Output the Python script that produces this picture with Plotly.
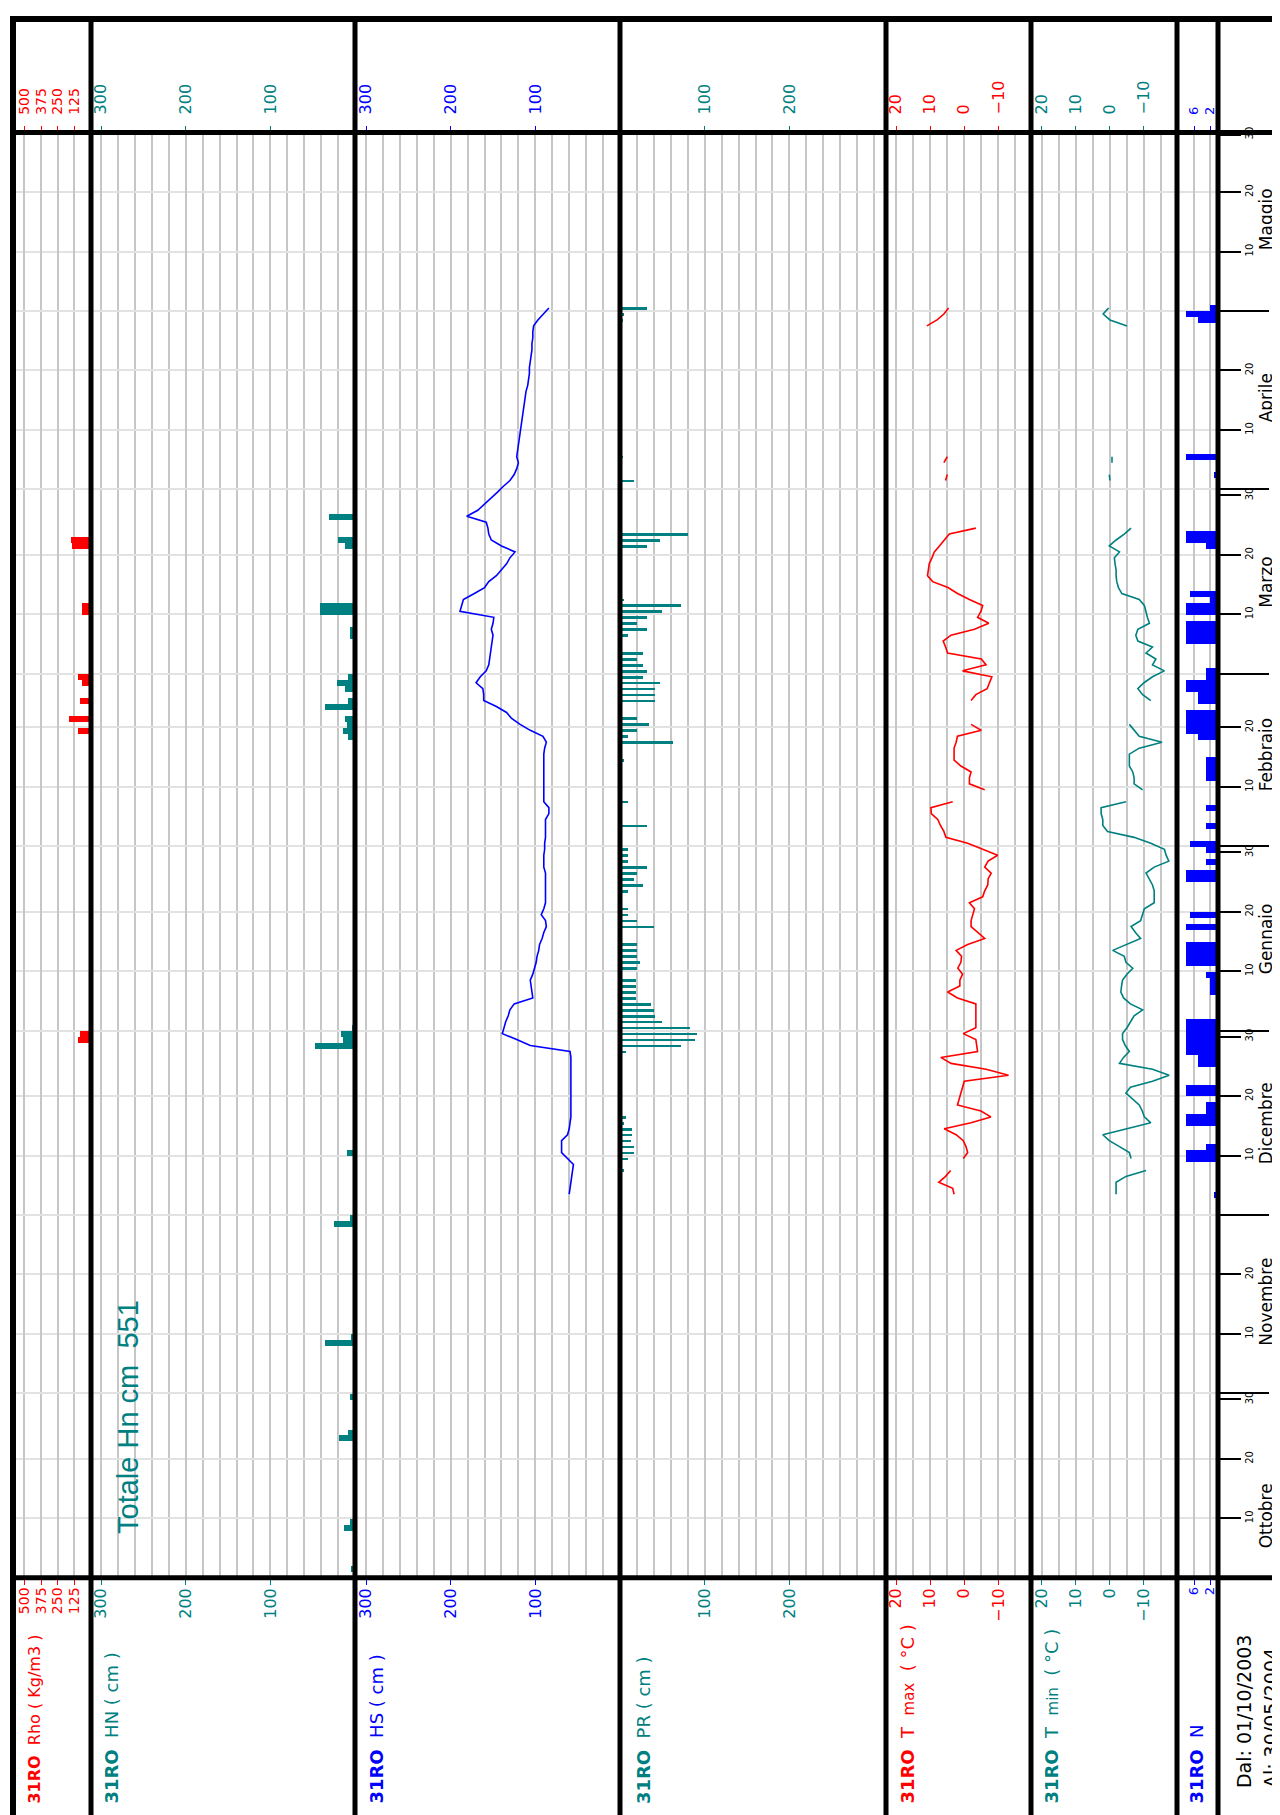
import plotly.graph_objects as go
import pandas as pd

W, H = 1280, 1815
OFF = 8  # page body margin of the browser

# ---------------- data ----------------
SEASON_START = "2003-10-01"
SEASON_END = "2004-05-31"

RHO_DATES = ["2003-12-30", "2003-12-31", "2004-02-20", "2004-02-22", "2004-02-25", "2004-02-28",
             "2004-02-29", "2004-03-11", "2004-03-12", "2004-03-22", "2004-03-23"]
RHO_VALUES = [99, 86, 99, 166, 81, 66, 99, 66, 66, 145, 150]

HN_DATES = ["2003-10-02", "2003-10-09", "2003-10-10", "2003-10-24", "2003-10-25", "2003-10-31",
            "2003-11-09", "2003-11-10", "2003-11-29", "2003-11-30", "2003-12-11", "2003-12-29",
            "2003-12-30", "2003-12-31", "2004-01-01", "2004-02-19", "2004-02-20", "2004-02-21",
            "2004-02-22", "2004-02-24", "2004-02-25", "2004-02-27", "2004-02-28", "2004-02-29",
            "2004-03-07", "2004-03-08", "2004-03-11", "2004-03-12", "2004-03-22", "2004-03-23",
            "2004-03-27"]
HN_VALUES = [5, 13, 6, 19, 8, 6, 36, 5, 25, 6, 10, 47, 14, 16, 4, 8, 14, 10, 12, 35, 8, 12, 21, 8,
             6, 6, 41, 41, 12, 20, 31]

HS_START = "2003-12-04"
HS_VALUES = [60, 59, 58, 57, 56, 55,
             62, 69, 69, 69, 62, 60, 59, 58, 58, 58,
             58, 58, 58, 58, 58, 58, 58, 58, 59, 106,
             122, 139, 137, 135, 132, 130, 125, 103, 104, 105,
             106, 103, 101, 99, 98, 96, 95, 92, 90, 87,
             88, 93, 90, 88, 88, 88, 88, 88, 88, 90,
             90, 90, 89, 89, 88, 88, 88, 88, 84, 84,
             90, 90, 90, 90, 90, 90, 90, 90, 90, 89,
             87, 91, 106, 118, 128, 134, 146, 161, 161, 162,
             170, 165, 158, 155, 154, 153, 152, 151, 150, 152,
             150, 149, 189, 187, 185, 172, 160, 155, 146, 140,
             134, 130, 124, 140, 152, 155, 156, 158, 181, 168,
             160, 152, 145, 138, 130, 125, 122, 120, 122, 121,
             120, 119, 118, 117, 116, 115, 114, 113, 112, 111,
             109, 108, 107, 107, 106, 105, 104, 104, 103, 103,
             102, 97, 91, 84]

PR_DATES = ["2003-12-08", "2003-12-10", "2003-12-11", "2003-12-12", "2003-12-13", "2003-12-14",
            "2003-12-15", "2003-12-16", "2003-12-17", "2003-12-28", "2003-12-29", "2003-12-30",
            "2003-12-31", "2004-01-01", "2004-01-02", "2004-01-03", "2004-01-04", "2004-01-05",
            "2004-01-06", "2004-01-07", "2004-01-08", "2004-01-09", "2004-01-11", "2004-01-12",
            "2004-01-13", "2004-01-14", "2004-01-15", "2004-01-18", "2004-01-19", "2004-01-20",
            "2004-01-21", "2004-01-24", "2004-01-25", "2004-01-26", "2004-01-27", "2004-01-28",
            "2004-01-29", "2004-01-30", "2004-01-31", "2004-02-04", "2004-02-08", "2004-02-15",
            "2004-02-18", "2004-02-19", "2004-02-20", "2004-02-21", "2004-02-22", "2004-02-25",
            "2004-02-26", "2004-02-27", "2004-02-28", "2004-02-29", "2004-03-01", "2004-03-02",
            "2004-03-03", "2004-03-04", "2004-03-07", "2004-03-08", "2004-03-09", "2004-03-10",
            "2004-03-11", "2004-03-12", "2004-03-13", "2004-03-22", "2004-03-23", "2004-03-24",
            "2004-04-02", "2004-04-06", "2004-04-29", "2004-04-30", "2004-05-01"]
PR_VALUES = [5, 9, 16, 16, 13, 14, 14, 5, 7, 7, 72, 88, 91,
             83, 50, 41, 40, 37, 19, 19, 19, 19, 20, 24, 20, 20, 20, 40, 20, 10, 10, 10, 27, 16, 20,
             32, 10, 10, 10,
             32, 10, 5, 63, 10, 20, 34, 20, 41, 41, 41, 47, 27,
             32, 27, 20, 27, 10, 32, 20, 32, 50, 72, 5, 32, 47, 80,
             16, 4, 4, 5, 32]

T_START = "2003-12-04"
TMAX_VALUES = [3, 3.4, 7.5, 5.5, 4, None,
               0.3, -1, -0.5, 0.3, 2.4, 5.9, -2, -7.8, -4.9, 2,
               1.5, 1, 0.3, 0, -13, -6.4, 3.9, 6.9, -3.9, -3.6,
               -3.4, 0.3, -3.4, -3.4, -3.4, -3.4, -3.4, 2, 4.9, 1.3,
               1.3, 0.5, 1.9, 1, 0.8, 2.4, -1, -6, -4, -2,
               -2, -2.5, -3, -1.5, -5.4, -6, -6.9, -7, -7.9, -6,
               -7, -9.8, -5.4, -1, 5.4, 6, 7, 7.8, 9.7, 9.8,
               3.4, None, -6, -1.5, -1.5, -2, 1, 3, 3, 3,
               2.4, 2, -5, -2, None, None, None, -2, -3.4, -6.7,
               -7.5, -8.1, 0.5, -6.4, -5, 4.9, 5.5, 6.2, 3.9, -3,
               -7.2, -3.9, -4.9, -5.4, -1.5, 2, 4.8, 9.3, 10.8, 10.5,
               10.3, 9.5, 8.8, 7.3, 5.9, 4.4, -3.4, None, None, None,
               None, None, None, None, 5.5, 5, None, 6, 5, None,
               None, None, None, None, None, None, None, None, None, None,
               None, None, None, None, None, None, None, None, None, None,
               11, 8, 6, 4.6]
TMIN_VALUES = [-1.8, -1.8, -1.8, -4.7, -10.6, None,
               -6.2, -5.7, -2.8, 0.2, 2.1, -4.7, -12, -10.1, -9.5, -8.6,
               -6.7, -4.7, -6, -12.5, -17.4, -12.5, -2.8, -4, -5.7, -4.5,
               -3.7, -3.7, -5, -6, -7.1, -9.6, -6, -4, -3.2, -3.4,
               -3.7, -5, -6.7, -4.7, -4.2, -0.8, -4.7, -9, -7.5, -6.2,
               -9, -9.5, -10.1, -13, -13, -13, -12.5, -11.5, -10.6, -13,
               -17.3, -16.5, -16, -12, -7.1, 0.7, 2.1, 2.1, 2.6, 2.6,
               -4.7, None, -9.6, -7.1, -7.1, -6.7, -5.7, -5.7, -5.7, -8.6,
               -15.3, -8.6, -7.1, -5.7, None, None, None, -12, -9.6, -8.2,
               -10, -12.5, -16, -12.5, -13.5, -10.6, -12.5, -8.2, -7.6, -8.2,
               -11.6, -11, -10.5, -10.1, -8.6, -3.5, -2.5, -2, -1.8, -1.8,
               -1.5, -1.3, -2.8, 0.2, -1.8, -4.2, -6.2, None, None, None,
               None, None, None, None, 0, 0.2, None, -0.6, -0.6, None,
               None, None, None, None, None, None, None, None, None, None,
               None, None, None, None, None, None, None, None, None, None,
               -5, 0, 2, 0.4]

N_DATES = ["2003-12-04", "2003-12-10", "2003-12-11", "2003-12-12", "2003-12-16", "2003-12-17",
           "2003-12-18", "2003-12-19", "2003-12-21", "2003-12-22", "2003-12-26", "2003-12-27",
           "2003-12-28", "2003-12-29", "2003-12-30", "2003-12-31",
           "2004-01-01", "2004-01-02", "2004-01-07", "2004-01-08", "2004-01-09", "2004-01-10",
           "2004-01-12", "2004-01-13", "2004-01-14", "2004-01-15", "2004-01-18", "2004-01-20",
           "2004-01-26", "2004-01-27", "2004-01-29", "2004-01-31",
           "2004-02-01", "2004-02-04", "2004-02-07", "2004-02-12", "2004-02-13", "2004-02-14",
           "2004-02-15", "2004-02-19", "2004-02-20", "2004-02-21", "2004-02-22", "2004-02-23",
           "2004-02-25", "2004-02-26", "2004-02-27", "2004-02-28", "2004-02-29",
           "2004-03-01", "2004-03-06", "2004-03-07", "2004-03-08", "2004-03-09", "2004-03-11",
           "2004-03-12", "2004-03-13", "2004-03-14", "2004-03-22", "2004-03-23", "2004-03-24",
           "2004-04-03", "2004-04-06", "2004-04-29", "2004-04-30", "2004-05-01"]
N_VALUES = [1, 8, 8, 3, 8, 8, 3, 3, 8, 8, 5, 5, 8, 8, 8, 8,
            8, 8, 2, 2, 2, 3, 8, 8, 8, 8, 8, 7, 8, 8, 3, 3,
            7, 3, 3, 3, 3, 3, 3, 5, 8, 8, 8, 8, 5, 5, 8, 8, 3,
            3, 8, 8, 8, 8, 8, 8, 2, 7, 3, 8, 8,
            1, 8, 5, 8, 2]

RHO_TICKS = [500, 375, 250, 125]
CM_TICKS = [300, 200, 100]
PR_TICKS = [100, 200]
T_TICKS = [20, 10, 0, -10]
N_TICKS = [6, 2]
MONTH_NAMES = ["Ottobre", "Novembre", "Dicembre", "Gennaio", "Febbraio", "Marzo", "Aprile", "Maggio"]
MONTH_LABEL_DAY = [11, 16, 16, 16, 16, 16, 16, 16]
TOTAL_TEXT = "Totale Hn cm  551"

# ---------------- styling ----------------
RED, TEAL, BLUE = "#ff0000", "#008080", "#0000ff"
GRID_V, GRID_H = "#c6c6c6", "#e2e2e2"
FONT = "DejaVu Sans, Liberation Sans, sans-serif"
FONT_TOTAL = "Liberation Sans, Arial, sans-serif"
DAY_MS = 86400000


def fx(p):
    return (p - OFF) / W


def fy(p):
    return 1 - (p - OFF) / H


COLS = [14, 91, 355, 620, 886, 1031, 1177, 1218]
Y_TOP, Y_BOT = 127, 1577


def centers(dates):
    return pd.to_datetime(pd.Series(dates)) + pd.Timedelta(hours=12)


def daily(start, n):
    return pd.date_range(start, periods=n, freq="D") + pd.Timedelta(hours=12)


fig = go.Figure()
fig.add_trace(go.Bar(y=centers(RHO_DATES), x=RHO_VALUES, orientation="h", width=DAY_MS,
                     marker=dict(color=RED, line_width=0), xaxis="x", yaxis="y"))
fig.add_trace(go.Bar(y=centers(HN_DATES), x=HN_VALUES, orientation="h", width=DAY_MS,
                     marker=dict(color=TEAL, line_width=0), xaxis="x2", yaxis="y"))
fig.add_trace(go.Scatter(y=daily(HS_START, len(HS_VALUES)), x=HS_VALUES, mode="lines",
                         line=dict(color=BLUE, width=1.6), xaxis="x3", yaxis="y"))
fig.add_trace(go.Bar(y=centers(PR_DATES), x=PR_VALUES, orientation="h", width=DAY_MS * 0.45,
                     marker=dict(color=TEAL, line_width=0), xaxis="x4", yaxis="y"))
fig.add_trace(go.Scatter(y=daily(T_START, len(TMAX_VALUES)), x=TMAX_VALUES, mode="lines",
                         connectgaps=False, line=dict(color=RED, width=1.6), xaxis="x5", yaxis="y"))
fig.add_trace(go.Scatter(y=daily(T_START, len(TMIN_VALUES)), x=TMIN_VALUES, mode="lines",
                         connectgaps=False, line=dict(color=TEAL, width=1.6), xaxis="x6", yaxis="y"))
fig.add_trace(go.Bar(y=centers(N_DATES), x=N_VALUES, orientation="h", width=DAY_MS,
                     marker=dict(color=BLUE, line_width=0), xaxis="x7", yaxis="y"))

# empty traces to register the overlay axes
for i in range(8, 15):
    fig.add_trace(go.Scatter(x=[None], y=[None], xaxis=f"x{i}", yaxis="y", hoverinfo="skip"))
fig.add_trace(go.Scatter(x=[None], y=[None], xaxis="x7", yaxis="y2", hoverinfo="skip"))
fig.add_trace(go.Scatter(x=[None], y=[None], xaxis="x7", yaxis="y3", hoverinfo="skip"))

panels = [
    # (left, right, range, ticks, color, font size, minor dtick)
    (COLS[0], COLS[1], [578, 0], RHO_TICKS, RED, 14, None),
    (COLS[1], COLS[2], [312, 0], CM_TICKS, TEAL, 16, 20),
    (COLS[2], COLS[3], [313, 0], CM_TICKS, BLUE, 16, 20),
    (COLS[3], COLS[4], [0, 314], PR_TICKS, TEAL, 16, 20),
    (COLS[4], COLS[5], [23, -19.6], T_TICKS, RED, 16, 5),
    (COLS[5], COLS[6], [23.2, -19.7], T_TICKS, TEAL, 16, 5),
    (COLS[6], COLS[7], [10.25, 0], N_TICKS, BLUE, 13, None),
]

layout_axes = {}
for i, (l, r, rng, tv, col, fs, mdt) in enumerate(panels):
    base = dict(domain=[fx(l), fx(r)], range=rng, tickmode="array", tickvals=tv,
                ticks="outside", ticklen=6, tickwidth=1, tickcolor=col, tickangle=-90,
                tickfont=dict(color=col, size=fs, family=FONT), anchor="y",
                showline=False, zeroline=False, fixedrange=True)
    top = dict(base, side="top", showgrid=True, gridcolor=GRID_V, gridwidth=2,
               ticklabelstandoff=8)
    if mdt:
        top["minor"] = dict(tickmode="linear", tick0=0, dtick=mdt, showgrid=True,
                            gridcolor=GRID_V, gridwidth=2, ticks="")
    name = "xaxis" if i == 0 else f"xaxis{i + 1}"
    layout_axes[name] = top
    ov = "x" if i == 0 else f"x{i + 1}"
    layout_axes[f"xaxis{i + 8}"] = dict(base, side="bottom", overlaying=ov, showgrid=False,
                                        ticklabelstandoff=-3)

all_months = pd.date_range("2003-10-01", "2004-05-01", freq="MS")
month_starts = [d.strftime("%Y-%m-%d") for d in all_months[1:]]
dekads = []
for m in all_months:
    for dd in (11, 21):
        dekads.append(m.replace(day=dd).strftime("%Y-%m-%d"))

lab_vals, lab_text = [], []
for m in all_months:
    lab_vals += [m.replace(day=11).strftime("%Y-%m-%d"), m.replace(day=21).strftime("%Y-%m-%d")]
    lab_text += ["10", "20"]
    if m.days_in_month == 31 and m.month != 5:
        lab_vals.append(m.replace(day=31).strftime("%Y-%m-%d"))
        lab_text.append("30")
lab_vals.append("2004-05-30 16:00")
lab_text.append("30")

mname_vals = [m.replace(day=d).strftime("%Y-%m-%d") for m, d in zip(all_months, MONTH_LABEL_DAY)]

yrange = [SEASON_START, SEASON_END]
layout_axes["yaxis"] = dict(domain=[fy(Y_BOT), fy(Y_TOP)], type="date", range=yrange,
                            anchor="x7", side="right", tickmode="array", tickvals=month_starts,
                            ticks="outside", ticklen=50, tickwidth=2, tickcolor="black",
                            showticklabels=False, showgrid=True, gridcolor=GRID_H, gridwidth=2,
                            minor=dict(tickmode="array", tickvals=dekads, ticks="outside",
                                       ticklen=22, tickwidth=2, tickcolor="black",
                                       showgrid=True, gridcolor=GRID_H, gridwidth=2),
                            zeroline=False, showline=False, fixedrange=True)
layout_axes["yaxis2"] = dict(overlaying="y", anchor="x7", side="right", type="date", range=yrange,
                             tickmode="array", tickvals=lab_vals, ticktext=lab_text,
                             ticks="outside", ticklen=22, tickwidth=2, tickcolor="black",
                             tickangle=-90, tickfont=dict(size=10, color="black", family=FONT),
                             showgrid=False, zeroline=False, showline=False)
layout_axes["yaxis3"] = dict(overlaying="y", anchor="x7", side="right", type="date", range=yrange,
                             tickmode="array", tickvals=mname_vals, ticktext=MONTH_NAMES,
                             ticks="outside", ticklen=33, tickcolor="rgba(0,0,0,0)",
                             tickangle=-90, tickfont=dict(size=17, color="black", family=FONT),
                             showgrid=False, zeroline=False, showline=False)

# frame lines
shapes = []


def hline(y, w):
    shapes.append(dict(type="line", xref="paper", yref="paper", x0=fx(10), x1=fx(1290),
                       y0=fy(y), y1=fy(y), line=dict(color="black", width=w)))


def vline(x, w, y0=10):
    shapes.append(dict(type="line", xref="paper", yref="paper", x0=fx(x), x1=fx(x),
                       y0=fy(y0), y1=fy(1830), line=dict(color="black", width=w)))


hline(13, 6)
hline(Y_TOP, 5)
hline(Y_BOT, 5)
vline(13, 6)
for xc in COLS[1:]:
    vline(xc, 5)

# titles
annotations = []


def vtext(x, ybottom, text, color, size, family=FONT):
    annotations.append(dict(x=fx(x), y=fy(ybottom), xref="paper", yref="paper", text=text,
                            textangle=-90, showarrow=False, xanchor="center", yanchor="bottom",
                            font=dict(color=color, size=size, family=family)))


vtext(35, 1806, "<b>31RO</b>  Rho ( Kg/m3 )", RED, 16)
vtext(112, 1806, "<b>31RO</b>  HN ( cm )", TEAL, 18)
vtext(377, 1806, "<b>31RO</b>  HS ( cm )", BLUE, 18)
vtext(643, 1806, "<b>31RO</b>  PR ( cm )", TEAL, 18)
vtext(908, 1806, "<b>31RO</b>  T  <span style='font-size:15px'>max</span>  ( °C )", RED, 18)
vtext(1052, 1806, "<b>31RO</b>  T  <span style='font-size:15px'>min</span>  ( °C )", TEAL, 18)
vtext(1197, 1806, "<b>31RO</b>  N", BLUE, 18)
vtext(1244, 1790, "Dal: 01/10/2003", "black", 19)
vtext(1271, 1790, "Al: 30/05/2004", "black", 19)
vtext(128, 1535, TOTAL_TEXT, TEAL, 29, FONT_TOTAL)

fig.update_layout(width=W, height=H, margin=dict(l=0, r=0, t=0, b=0),
                  paper_bgcolor="white", plot_bgcolor="white", showlegend=False,
                  bargap=0, barmode="overlay", shapes=shapes, annotations=annotations,
                  font=dict(family=FONT), **layout_axes)

fig.write_html("out.html")
